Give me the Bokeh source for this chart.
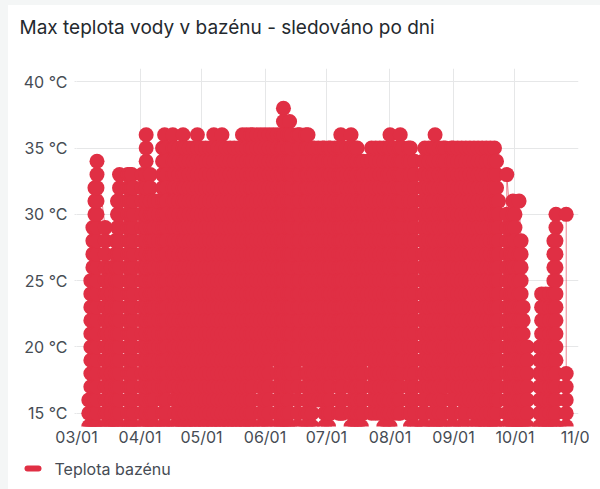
import numpy as np
from bokeh.plotting import figure
from bokeh.models import FixedTicker, Range1d, ColumnDataSource
from bokeh.core.properties import value
from bokeh.embed import file_html
from bokeh.resources import INLINE

TITLE = "Max teplota vody v bazénu - sledováno po dni"
SERIES = "Teplota bazénu"
RED = "#E02F44"
YEAR = "2023"

x_ticks = ["03-01", "04-01", "05-01", "06-01", "07-01", "08-01", "09-01", "10-01", "11-01"]
x_labels = ["03/01", "04/01", "05/01", "06/01", "07/01", "08/01", "09/01", "10/01", "11/01"]
y_ticks = [15, 20, 25, 30, 35, 40]
y_labels = ["15 °C", "20 °C", "25 °C", "30 °C", "35 °C", "40 °C"]

# days on which readings exist, with the highest and lowest reading of each day
days = ["03-07","03-08","03-09","03-10","03-11","03-15","03-16","03-18","03-20","03-21","03-22","03-26",
        "03-27","03-28","03-29","04-02","04-04","04-06","04-07","04-08","04-10","04-12","04-13","04-14",
        "04-17","04-18","04-20","04-22","04-23","04-25","04-27","04-29","05-01","05-03","05-05","05-07",
        "05-09","05-11","05-13","05-15","05-17","05-19","05-21","05-23","05-25","05-26","05-28","05-30",
        "06-01","06-03","06-05","06-07","06-09","06-10","06-12","06-13","06-14","06-17","06-18","06-21",
        "06-22","06-24","06-25","06-27","06-29","06-30","07-02","07-03","07-05","07-07","07-08","07-09",
        "07-11","07-13","07-15","07-16","07-18","07-19","07-21","07-23","07-25","07-27","07-29","07-31",
        "08-01","08-03","08-05","08-06","08-07","08-10","08-11","08-13","08-17","08-18","08-20","08-22",
        "08-23","08-25","08-27","08-28","08-31","09-01","09-03","09-05","09-07","09-09","09-11","09-13",
        "09-15","09-17","09-19","09-21","09-22","09-23","09-27","09-29","09-30","10-01","10-03","10-04",
        "10-05","10-07","10-13","10-14","10-16","10-18","10-20","10-21","10-26"]
highs = [16,25,29,32,34,29,25,26,28,31,33,33,
         33,33,32,33,36,33,30,31,31,35,36,35,
         36,35,35,36,35,35,35,36,35,35,35,36,
         35,36,35,35,35,35,36,36,36,36,36,36,
         36,36,36,36,36,38,36,37,36,36,36,36,
         36,35,35,35,35,35,35,35,35,35,36,35,
         35,36,35,35,34,34,34,35,35,35,35,35,
         36,35,35,36,35,35,35,34,34,35,35,35,
         36,35,35,35,35,35,35,35,35,35,35,35,
         35,35,35,35,34,31,30,29,31,30,27,28,
         23,20,20,24,24,24,28,30,18]
lows = [14,14,14,14,14,14,14,14,14,14,14,14,
        14,14,14,14,14,14,14,14,17,14,14,14,
        17,14,14,14,14,14,14,14,14,14,14,14,
        14,14,14,14,14,14,14,14,14,14,18,14,
        14,14,20,14,14,14,14,14,17,14,20,14,
        14,14,16,16,16,14,14,15,18,15,15,15,
        18,14,14,14,14,15,20,15,15,15,14,14,
        14,15,15,15,18,15,14,14,14,14,17,14,
        14,14,14,17,14,14,17,14,14,16,14,14,
        14,14,14,14,14,16,14,14,14,14,14,14,
        14,14,14,14,14,14,14,14,14]
# single high readings standing apart from the rest of that day
lone_days = ["09-27", "10-03", "10-26"]
lone_temps = [33, 31, 30]
assert len(days) == len(highs) == len(lows)


def ms(md):
    return np.datetime64(f"{YEAR}-{md}T00:00", "ms").astype("int64").item()


xs, ys = [], []
for i, (d, hi, lo) in enumerate(zip(days, highs, lows)):
    temps = list(range(lo, hi + 1))
    if d in lone_days:
        temps.append(lone_temps[lone_days.index(d)])
    if i % 2:
        temps = temps[::-1]
    xs += [ms(d)] * len(temps)
    ys += temps

W = 592


def strip(height):
    f = figure(width=W, height=height, output_backend="svg", toolbar_location=None,
               x_range=Range1d(0, W), y_range=Range1d(0, height), x_axis_location=None, y_axis_location=None,
               min_border=0, background_fill_color="white", border_fill_color="white", outline_line_color=None)
    f.grid.visible = False
    return f


head = strip(63)
head.text([11], [41], text=[TITLE], text_font=value("Inter"), text_font_size="19px",
          text_color="#24292e", text_baseline="middle", text_align="left")

p = figure(width=W, height=381, output_backend="svg", toolbar_location=None,
           x_axis_type="datetime",
           x_range=Range1d(ms("03-01"), ms("11-01")), y_range=Range1d(14, 41),
           min_border_left=68, min_border_right=22, min_border_top=0, min_border_bottom=21,
           background_fill_color="white", border_fill_color="white", outline_line_color=None)

src = ColumnDataSource(dict(x=xs, y=ys))
p.line("x", "y", source=src, line_color=RED, line_width=1, line_alpha=0.6)
p.scatter("x", "y", source=src, size=15, fill_color=RED, line_color=None, marker="circle")

foot = strip(40)
foot.line([19, 30], [21, 21], line_color=RED, line_width=6, line_cap="round")
foot.text([46], [21], text=[SERIES], text_font=value("Inter"), text_font_size="16px",
          text_color="#464c54", text_baseline="middle", text_align="left")

grid = "#e6e7e8"
p.xgrid.ticker = FixedTicker(ticks=[ms(t) for t in x_ticks])
p.ygrid.ticker = FixedTicker(ticks=y_ticks)
p.xgrid.grid_line_color = grid
p.ygrid.grid_line_color = grid

xa = p.xaxis[0]
xa.ticker = FixedTicker(ticks=[ms(t) for t in x_ticks])
xa.major_label_overrides = {ms(t): l for t, l in zip(x_ticks, x_labels)}
xa.axis_line_color = None
xa.major_tick_line_color = None
xa.minor_tick_line_color = None
xa.major_tick_out = 0
xa.major_tick_in = 0
xa.major_label_standoff = 0
xa.major_label_text_font = "Inter"
xa.major_label_text_font_size = "16px"
xa.major_label_text_color = "#464c54"

ya = p.yaxis[0]
ya.ticker = FixedTicker(ticks=y_ticks)
ya.major_label_overrides = {t: l for t, l in zip(y_ticks, y_labels)}
ya.axis_line_color = None
ya.major_tick_line_color = grid
ya.major_tick_in = 0
ya.major_tick_out = 2
ya.minor_tick_line_color = None
ya.major_label_standoff = 7
ya.major_label_text_font = "Inter"
ya.major_label_text_font_size = "16px"
ya.major_label_text_color = "#464c54"

html = file_html((head, p, foot), INLINE)
style = ("<style>html{margin:0;overflow:hidden}"
         "body{background:linear-gradient(#f4f6f6 5px,transparent 5px),"
         "linear-gradient(90deg,#f4f6f6 8px,#fff 8px) !important;"
         "margin:5px 0 0 8px;width:581px;height:484px;overflow:hidden}</style>")
html = html.replace("</head>", style + "</head>", 1)
open("out.html", "w").write(html)
